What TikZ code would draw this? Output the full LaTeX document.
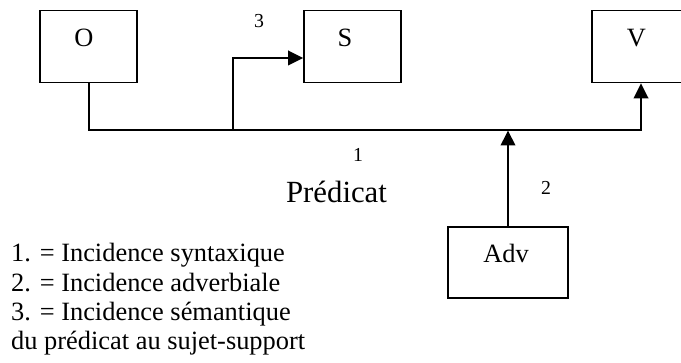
\documentclass[tikz,border=0pt]{standalone}
\usepackage{fontspec}
\setmainfont{Liberation Serif}
\usetikzlibrary{arrows.meta,calc}
\begin{document}
\begin{tikzpicture}[x=1pt,y=-1pt,
  box/.style={draw,line width=1.6pt,rectangle,inner sep=0pt},
  conn/.style={line width=2pt},
  tip/.style={-{Triangle[length=15pt,width=14.5pt]}},
  mainfont/.style={font=\fontsize{26.4}{29.5}\selectfont},
  numfont/.style={font=\fontsize{19.8}{22}\selectfont},
  bigfont/.style={font=\fontsize{30.8}{34}\selectfont}]
\useasboundingbox (0,0) rectangle (681,363);
% boxes
\node[box,minimum width=97pt,minimum height=72pt] (O) at (88.5,46.5) {};
\node[box,minimum width=97pt,minimum height=72pt] (S) at (352.5,46.5) {};
\node[box,minimum width=98pt,minimum height=72pt] (V) at (641,46.5) {};
\node[box,minimum width=120pt,minimum height=71pt] (Adv) at (508,262.5) {};
% box texts
\node[mainfont,inner sep=0pt,anchor=base] (Ot) at (84,47) {O};
\node[mainfont,inner sep=0pt,anchor=base] (St) at (345,47) {S};
\node[mainfont,inner sep=0pt,anchor=base] (Vt) at (636.5,47) {V};
\node[mainfont,inner sep=0pt,anchor=base] (Advt) at (506,263) {Adv};
% connectors
\coordinate (bus) at (0,130.5);
\coordinate (br) at (233,130.5);
\coordinate (sin) at ($(S.west)+(0,11.5)$);
\draw[conn,tip] (O.south) |- (V.south |- bus) -- (V.south);
\draw[conn,tip] (br) |- (sin);
\draw[conn,tip] (Adv.north) -- (Adv.north |- bus);
% labels
\node[numfont,inner sep=0pt] (n3) at (259,21) {3};
\node[numfont,inner sep=0pt] (n1) at (358,155) {1};
\node[numfont,inner sep=0pt] (n2) at (546,188) {2};
\node[bigfont,inner sep=0pt,anchor=base] (pred) at (336.5,203) {Prédicat};
% legend
\node[mainfont,inner sep=0pt,anchor=base west] (l1) at (11,262) {1. = Incidence syntaxique};
\node[mainfont,inner sep=0pt,anchor=base west] (l2) at (11,291.5) {2. = Incidence adverbiale};
\node[mainfont,inner sep=0pt,anchor=base west] (l3) at (11,321) {3. = Incidence sémantique};
\node[mainfont,inner sep=0pt,anchor=base west] (l4) at (11,350) {du prédicat au sujet-support};
\end{tikzpicture}
\end{document}
